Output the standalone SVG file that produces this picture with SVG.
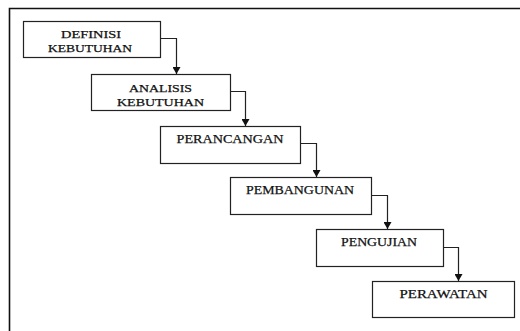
<svg xmlns="http://www.w3.org/2000/svg" width="520" height="331" viewBox="0 0 520 331">
<defs>
<marker id="ah" markerWidth="8" markerHeight="8" refX="7" refY="4" orient="auto" markerUnits="userSpaceOnUse">
<path d="M0,0 L7,4 L0,8 Z" fill="#111"/>
</marker>
<style>
.box{fill:#fff;stroke:#222;stroke-width:1.2}
.t{font-family:"Liberation Serif","Times New Roman",serif;font-size:13px;fill:#111;stroke:#111;stroke-width:0.25;text-anchor:middle}
.s{font-size:11.4px}
.c{fill:none;stroke:#222;stroke-width:1.2}
</style>
</defs>
<rect width="520" height="331" fill="#fff"/>
<path d="M9.5,331 V8.5 H520" fill="none" stroke="#111" stroke-width="1.6"/>
<g id="n1"><rect class="box" x="23.5" y="21.5" width="137" height="36"/>
<text class="t s" x="91" y="38.3" textLength="60" lengthAdjust="spacingAndGlyphs">DEFINISI</text>
<text class="t s" x="90" y="51.6" textLength="84" lengthAdjust="spacingAndGlyphs">KEBUTUHAN</text></g>
<g id="n2"><rect class="box" x="91.5" y="74.5" width="139" height="36"/>
<text class="t s" x="160.5" y="92" textLength="63" lengthAdjust="spacingAndGlyphs">ANALISIS</text>
<text class="t s" x="160.5" y="106" textLength="87" lengthAdjust="spacingAndGlyphs">KEBUTUHAN</text></g>
<g id="n3"><rect class="box" x="160.5" y="126.5" width="140" height="37"/>
<text class="t" x="230" y="142.5" textLength="107" lengthAdjust="spacingAndGlyphs">PERANCANGAN</text></g>
<g id="n4"><rect class="box" x="230.5" y="177.5" width="141" height="37"/>
<text class="t" x="300" y="194" textLength="108" lengthAdjust="spacingAndGlyphs">PEMBANGUNAN</text></g>
<g id="n5"><rect class="box" x="316.5" y="229.5" width="127" height="37"/>
<text class="t" x="379" y="246" textLength="76" lengthAdjust="spacingAndGlyphs">PENGUJIAN</text></g>
<g id="n6"><rect class="box" x="372.5" y="281.5" width="142" height="36"/>
<text class="t" x="443.5" y="298" textLength="88" lengthAdjust="spacingAndGlyphs">PERAWATAN</text></g>
<g id="connectors">
<path class="c" d="M160.5,38.5 H176.5 V74" marker-end="url(#ah)"/>
<path class="c" d="M230.5,91.5 H245.5 V126" marker-end="url(#ah)"/>
<path class="c" d="M300.5,143.5 H316.5 V177" marker-end="url(#ah)"/>
<path class="c" d="M371.5,195.5 H387.5 V229" marker-end="url(#ah)"/>
<path class="c" d="M443.5,247.5 H458.5 V281" marker-end="url(#ah)"/>
</g>
</svg>
